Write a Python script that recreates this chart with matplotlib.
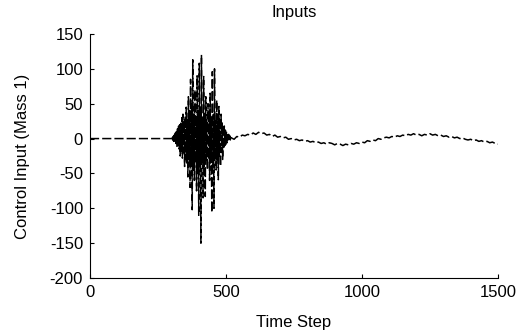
import numpy as np
import matplotlib.pyplot as plt

plt.rcParams["font.family"] = ["Liberation Sans", "DejaVu Sans"]
plt.rcParams["axes.unicode_minus"] = False  # 负号用短横线

# 前段: 控制输入为零
quiet_steps = [0, 300]
quiet_vals = [0, 0]

# 突发段: 300..520, 每 2 步一个值
burst_steps = list(range(300, 522, 2))
burst_vals = [
    0, 2, -2, 3, -4, 5, -6, 8, -7, 10,
    -12, 14, -10, 18, -15, 20, -25, 22, -18, 30,
    -28, 35, -20, 25, -40, 32, -30, 45, -35, 28,
    -55, 60, -30, 40, -70, 85, -40, 50, -102, 113,
    -45, 35, -60, 70, -35, 30, -75, 90, -50, 40,
    -110, 108, -40, 45, -150, 120, -35, 30, -85, 89,
    -40, 35, -83, 60, -30, 25, -45, 50, -30, 40,
    -60, 65, -35, 30, -106, 96, -40, 35, -100, 100,
    -30, 25, -45, 55, -30, 35, -59, 46, -25, 30,
    -40, 35, -20, 25, -30, 20, -15, 18, -10, 12,
    -8, 10, -6, 5, -4, 6, -3, 4, -2, 3,
    1,
]

# 后段: 缓慢波动, 每 10 步一个值
slow_steps = list(range(530, 1510, 10))
slow_vals = [
    -1, 3, 2, 5, 4, 6, 5, 8, 6, 9,
    7, 8, 5, 6, 3, 5, 2, 3, 1, 2,
    -1, 0, -2, -1, -3, -2, -4, -3, -5, -4,
    -6, -5, -7, -6, -8, -6, -7, -9, -7, -8,
    -10, -8, -9, -7, -8, -6, -7, -5, -6, -3,
    -4, -2, -3, 0, -1, 1, 2, 1, 3, 2,
    4, 3, 5, 4, 6, 5, 7, 5, 6, 4,
    6, 5, 7, 5, 6, 4, 5, 3, 4, 2,
    3, 1, 2, 0, 1, -1, -2, -1, -3, -2,
    -4, -3, -5, -4, -6, -5, -7, -8,
]

t = np.array(quiet_steps + burst_steps + slow_steps)
u = np.array(quiet_vals + burst_vals + slow_vals)

fig = plt.figure(figsize=(5.23, 3.33), dpi=100)
ax = fig.add_axes([0.172, 0.165, 0.78, 0.733])

ax.plot(t, u, color="black", linestyle="--", linewidth=1.1, dashes=(6, 2))

ax.set_xlim(0, 1500)
ax.set_ylim(-200, 150)
ax.set_xticks([0, 500, 1000, 1500])
ax.set_yticks([-200, -150, -100, -50, 0, 50, 100, 150])
ax.spines["top"].set_visible(False)
ax.spines["right"].set_visible(False)
ax.tick_params(direction="in", length=3, labelsize=12, width=0.8, pad=5)

ax.set_title("Inputs", fontsize=12, pad=12)
ax.set_xlabel("Time Step", fontsize=12, labelpad=11)
ax.set_ylabel("Control Input (Mass 1)", fontsize=12, labelpad=14)

fig.savefig("out.png", dpi=100)
